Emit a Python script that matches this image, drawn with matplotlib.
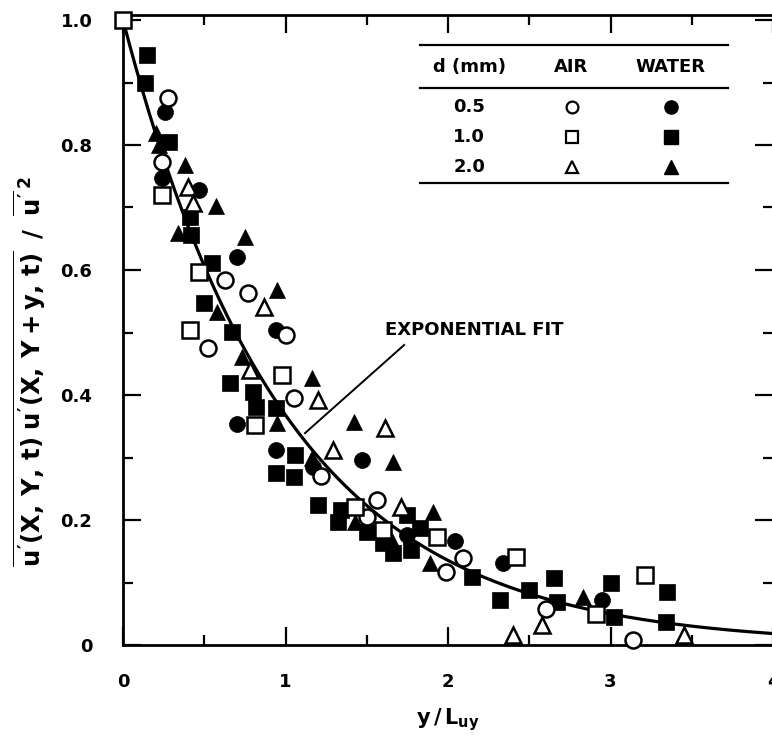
import numpy as np
import matplotlib
matplotlib.use("Agg")
import matplotlib.pyplot as plt

plt.rcParams['font.family'] = ['DejaVu Sans']
plt.rcParams['font.weight'] = 'bold'
plt.rcParams['mathtext.fontset'] = 'custom'
plt.rcParams['mathtext.rm'] = 'DejaVu Sans:bold'
plt.rcParams['mathtext.it'] = 'DejaVu Sans:bold'
plt.rcParams['mathtext.bf'] = 'DejaVu Sans:bold'

# ---- data (y/L_uy, correlation) ----
air_05_x = [0.277, 0.24, 0.63, 0.77, 1.00, 0.52, 1.05, 1.22, 1.56, 1.50, 1.99, 2.09, 2.60, 3.14]
air_05_y = [0.875, 0.773, 0.584, 0.563, 0.496, 0.475, 0.395, 0.270, 0.232, 0.205, 0.117, 0.139, 0.058, 0.008]

water_05_x = [0.26, 0.24, 0.47, 0.70, 0.94, 0.70, 0.94, 1.17, 1.47, 1.75, 2.04, 2.34, 2.95]
water_05_y = [0.853, 0.747, 0.728, 0.621, 0.504, 0.354, 0.312, 0.285, 0.296, 0.176, 0.166, 0.131, 0.072]

air_10_x = [0.0, 0.24, 0.47, 0.41, 0.98, 0.81, 1.43, 1.60, 1.93, 2.42, 3.21, 2.91]
air_10_y = [1.0, 0.720, 0.597, 0.504, 0.432, 0.352, 0.221, 0.184, 0.173, 0.141, 0.112, 0.050]

water_10_x = [0.15, 0.135, 0.28, 0.41, 0.42, 0.55, 0.50, 0.67, 0.66, 0.80, 0.82, 0.94, 1.06, 0.94,
              1.05, 1.20, 1.34, 1.32, 1.50, 1.60, 1.66, 1.77, 1.83, 1.75, 2.15, 2.32, 2.50, 2.65,
              2.67, 3.00, 3.02, 3.35, 3.34]
water_10_y = [0.944, 0.899, 0.805, 0.685, 0.656, 0.611, 0.547, 0.501, 0.419, 0.405, 0.381, 0.379, 0.304, 0.275,
              0.269, 0.224, 0.216, 0.197, 0.181, 0.163, 0.147, 0.152, 0.187, 0.208, 0.109, 0.072, 0.088, 0.107,
              0.069, 0.099, 0.045, 0.085, 0.037]

air_20_x = [0.40, 0.43, 0.87, 0.78, 1.20, 1.61, 1.29, 1.71, 2.40, 2.58, 3.45]
air_20_y = [0.733, 0.707, 0.541, 0.440, 0.392, 0.347, 0.312, 0.221, 0.016, 0.032, 0.016]

water_20_x = [0.20, 0.22, 0.38, 0.57, 0.34, 0.75, 0.95, 0.58, 0.73, 1.16, 0.95, 1.42, 1.66, 1.43,
              1.64, 1.91, 1.89, 2.83, 1.16]
water_20_y = [0.819, 0.800, 0.768, 0.702, 0.659, 0.653, 0.568, 0.533, 0.461, 0.427, 0.355, 0.357, 0.293, 0.197,
              0.173, 0.213, 0.131, 0.077, 0.300]

fit_x = np.linspace(0, 4, 300)
fit_y = np.exp(-fit_x)

legend_sizes = ["0.5", "1.0", "2.0"]
legend_headers = ["d (mm)", "AIR", "WATER"]

# ---- figure ----
W, H = 772, 739
fig = plt.figure(figsize=(W / 100, H / 100), dpi=100)
ax = fig.add_axes([123 / W, 1 - 645 / H, 650 / W, 630 / H])
ax.set_xlim(0, 4)
ax.set_ylim(0, 630 / 625)

ax.plot(fit_x, fit_y, color='black', lw=2.3, zorder=2)

ms = 11.5
mew = 1.8
kw_open = dict(linestyle='none', markerfacecolor='white', markeredgecolor='black', markersize=ms,
               markeredgewidth=mew, zorder=3, clip_on=False)
kw_fill = dict(linestyle='none', color='black', markersize=ms, markeredgewidth=0.5, zorder=3, clip_on=False)
ax.plot(water_10_x, water_10_y, marker='s', **kw_fill)
ax.plot(water_05_x, water_05_y, marker='o', **kw_fill)
ax.plot(water_20_x, water_20_y, marker='^', **kw_fill)
ax.plot(air_05_x, air_05_y, marker='o', **kw_open)
ax.plot(air_10_x, air_10_y, marker='s', **kw_open)
ax.plot(air_20_x, air_20_y, marker='^', **kw_open)

# annotation
ax.text(1.61, 0.504, "EXPONENTIAL FIT", fontsize=13, fontweight='bold', ha='left', va='center')
ax.plot([1.73, 1.12], [0.48, 0.339], color='black', lw=1.4, zorder=2)

# legend table (drawn in data coordinates)
x0, x1 = 1.83, 3.72
for yl in [0.96, 0.891, 0.739]:
    ax.plot([x0, x1], [yl, yl], color='black', lw=1.6, zorder=4)
col_x = [2.13, 2.76, 3.37]
for cx, h in zip(col_x, legend_headers):
    ax.text(cx, 0.925, h, fontsize=13, fontweight='bold', ha='center', va='center')
row_y = [0.861, 0.813, 0.765]
shapes = ['o', 's', '^']
for ry, lab, mk in zip(row_y, legend_sizes, shapes):
    ax.text(col_x[0], ry, lab, fontsize=13, fontweight='bold', ha='center', va='center')
    ax.plot([col_x[1]], [ry], marker=mk, linestyle='none', markerfacecolor='white',
            markeredgecolor='black', markersize=8.5, markeredgewidth=1.6, zorder=4)
    ax.plot([col_x[2]], [ry], marker=mk, linestyle='none', color='black', markersize=9.5, zorder=4)

# ticks
ax.set_xticks([0, 1, 2, 3, 4])
ax.set_xticklabels(["0", "1", "2", "3", "4"])
ax.set_xticks(np.arange(0, 4.01, 0.5), minor=True)
ax.set_yticks([0, 0.2, 0.4, 0.6, 0.8, 1.0])
ax.set_yticklabels(["0", "0.2", "0.4", "0.6", "0.8", "1.0"])
ax.set_yticks(np.arange(0, 1.01, 0.1), minor=True)
ax.tick_params(which='both', direction='in', top=True, right=True, width=1.6, colors='black')
ax.tick_params(which='major', length=13, labelsize=13, pad=22)
ax.tick_params(which='minor', length=7)
ax.tick_params(axis='x', which='major', pad=20)
for lab in ax.get_xticklabels() + ax.get_yticklabels():
    lab.set_fontweight('bold')
for sp in ax.spines.values():
    sp.set_linewidth(2.0)

# axis labels
fig.text(448 / W, 1 - 720 / H, r"$y\,/\,L_{uy}$", fontsize=15, ha='center', va='center')
fig.text(30 / W, 1 - 372 / H,
         r"$\overline{u'(X,\,Y,\,t)\;u'(X,\,Y+y,\,t)}\;\;/\;\;\overline{u'}^{\,2}$",
         fontsize=17.5, rotation=90, ha='center', va='center')

fig.savefig("out.png", dpi=100)
